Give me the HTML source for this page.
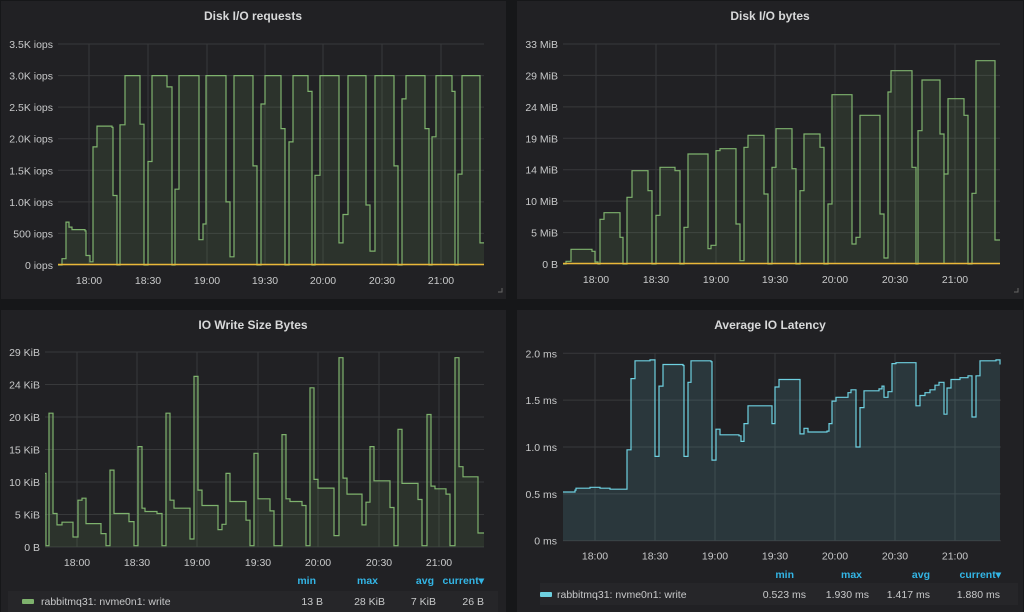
<!DOCTYPE html><html><head><meta charset="utf-8"><style>
body{margin:0;background:#161719;}
svg{display:block;font-family:"Liberation Sans",sans-serif;}
.t{fill:#d8d9da;font-size:12px;font-weight:bold;text-anchor:middle}
.a{fill:#c8c9ca;font-size:10.5px}
.r{text-anchor:end}.m{text-anchor:middle}
.h{fill:#33b5e5;font-size:10.5px;font-weight:bold;text-anchor:end}
</style></head><body>
<svg id="s" width="1024" height="612" viewBox="0 0 1024 612">
<rect width="1024" height="612" fill="#161719"/>
<rect x="1" y="1" width="505" height="298" fill="#212124"/>
<rect x="517" y="1" width="506" height="298" fill="#212124"/>
<rect x="1" y="310" width="505" height="302" fill="#212124"/>
<rect x="517" y="310" width="506" height="302" fill="#212124"/>
<text class="t" x="253" y="20">Disk I/O requests</text>
<text class="t" x="770" y="20">Disk I/O bytes</text>
<text class="t" x="253" y="329">IO Write Size Bytes</text>
<text class="t" x="770" y="329">Average IO Latency</text>
<g id="g"></g>
<rect x="8" y="591" width="490" height="21" fill="#262629"/>
<rect x="540" y="583" width="478" height="22" fill="#262629"/>
<text class="h" x="316" y="584">min</text><text class="h" x="378" y="584">max</text><text class="h" x="434" y="584">avg</text><text class="h" x="484" y="584">current▾</text>
<rect x="22" y="599" width="12" height="5" rx="1" fill="#7eb26d"/>
<text class="a" x="41" y="605">rabbitmq31: nvme0n1: write</text>
<text class="a r" x="323" y="605">13 B</text><text class="a r" x="385" y="605">28 KiB</text><text class="a r" x="436" y="605">7 KiB</text><text class="a r" x="484" y="605">26 B</text>
<text class="h" x="794" y="578">min</text><text class="h" x="862" y="578">max</text><text class="h" x="930" y="578">avg</text><text class="h" x="1001" y="578">current▾</text>
<rect x="540" y="592" width="12" height="5" rx="1" fill="#6ed0e0"/>
<text class="a" x="557" y="598">rabbitmq31: nvme0n1: write</text>
<text class="a r" x="806" y="598">0.523 ms</text><text class="a r" x="869" y="598">1.930 ms</text><text class="a r" x="930" y="598">1.417 ms</text><text class="a r" x="1000" y="598">1.880 ms</text>
<path d="M498 292h4v-4" stroke="#666" fill="none"/><path d="M1014 292h4v-4" stroke="#666" fill="none"/>
</svg>
<script>
var NS="http://www.w3.org/2000/svg",G=document.getElementById('g');
function el(t,a,txt){var e=document.createElementNS(NS,t);for(var k in a)e.setAttribute(k,a[k]);if(txt)e.textContent=txt;G.appendChild(e);return e;}
function panel(o){
 // grid
 o.yl.forEach(function(l,i){var y=o.y0-i*o.ys;el('line',{x1:o.x0,x2:o.x1,y1:y,y2:y,stroke:'#38393b','stroke-width':1});
  el('text',{class:'a r',x:o.lx,y:y+4},l);});
 var xl=['18:00','18:30','19:00','19:30','20:00','20:30','21:00'];
 o.xt.forEach(function(x,i){el('line',{x1:x,x2:x,y1:o.y0-(o.yl.length-1)*o.ys,y2:o.y0,stroke:'#38393b'});
  el('text',{class:'a m',x:x,y:o.y0+19},xl[i]);});
 var d=o.d,s='M'+d[0][0]+' '+(o.y0-d[0][1]*o.k);
 for(var i=1;i<d.length;i++){s+='H'+d[i][0]+'V'+(o.y0-d[i][1]*o.k).toFixed(1);}
 el('path',{d:s+'V'+o.y0+'H'+d[0][0]+'Z',fill:o.f});
 el('path',{d:s,fill:'none',stroke:o.c,'stroke-width':1.2});
 if(o.yel)el('line',{x1:o.x0,x2:o.x1,y1:o.y0-0.5,y2:o.y0-0.5,stroke:'#eab839','stroke-width':1.5});
}
panel({x0:58,x1:484,y0:265,ys:31.57,lx:53,yl:['0 iops','500 iops','1.0K iops','1.5K iops','2.0K iops','2.5K iops','3.0K iops','3.5K iops'],
 xt:[89,148,207,265,323,382,441],k:0.06314,c:'#7eb26d',f:'rgba(126,178,109,0.12)',yel:1,
 d:[[58,0],[62,100],[66,680],[69,600],[72,560],[85,540],[86,150],[90,50],[93,1870],[97,2200],[112,2180],[113,1100],[117,0],[120,2220],[125,3000],[140,2230],[144,0],[148,1640],[152,3000],[167,2820],[172,0],[175,1200],[179,3000],[199,400],[203,650],[206,3000],[226,1000],[230,130],[234,3000],[253,1570],[257,0],[261,2550],[265,3000],[281,2160],[285,0],[289,1950],[293,3000],[308,2750],[312,0],[315,1420],[320,3000],[339,350],[343,800],[348,3000],[366,950],[370,220],[375,3000],[394,1570],[398,0],[402,2630],[406,3000],[425,2160],[429,0],[432,2030],[436,3000],[452,2750],[455,0],[458,1440],[462,3000],[480,350],[484,350]]});
panel({x0:563,x1:1000,y0:264,ys:31.43,lx:558,yl:['0 B','5 MiB','10 MiB','14 MiB','19 MiB','24 MiB','29 MiB','33 MiB'],
 xt:[596,656,716,775,835,895,955],k:6.667,c:'#7eb26d',f:'rgba(126,178,109,0.12)',yel:1,
 d:[[563,0],[566,0.4],[571,2.2],[592,1.9],[595,0.3],[598,0],[600,6.7],[604,7.7],[620,4],[623,0],[627,10],[632,14],[648,11],[652,0],[656,7.3],[660,14.5],[675,14],[680,0],[684,5.5],[688,16.5],[708,2.3],[711,2.8],[716,17],[720,17.3],[736,6],[740,0.5],[744,17.5],[748,19.3],[764,10.5],[768,0],[772,14.5],[776,20.3],[792,14.3],[796,0],[800,11],[804,19.5],[820,17.5],[824,0],[828,9],[832,25.4],[852,3],[856,4],[860,22.3],[880,7.5],[884,0.9],[888,25.8],[891,29],[912,14.5],[916,0],[918,20],[922,27.6],[940,19.5],[944,0],[944,13.5],[948,24.8],[964,22.3],[968,0],[972,10.6],[976,30.5],[995,3.6],[1000,3.6]]});
panel({x0:45,x1:484,y0:547,ys:32.5,lx:40,yl:['0 B','5 KiB','10 KiB','15 KiB','20 KiB','24 KiB','29 KiB'],
 xt:[77,137,197,258,318,379,439],k:6.69,c:'#7eb26d',f:'rgba(126,178,109,0.12)',
 d:[[45,11],[46,0.2],[49,20],[53,5],[57,3.3],[62,3.7],[73,1.5],[78,7],[82,7.3],[86,3.5],[101,2],[106,0.2],[110,11.5],[114,5],[129,3.8],[134,0.2],[138,15],[142,5.8],[145,5.3],[157,5],[162,0.2],[166,20],[170,7],[174,5.8],[190,1.2],[194,25.5],[198,8.5],[202,6.2],[218,2.6],[222,3.4],[226,11],[230,6.8],[246,4],[250,0.2],[254,14],[258,7.2],[270,5.4],[274,0.2],[282,16.8],[286,7.2],[290,6.8],[302,6.2],[306,0.2],[310,23.8],[314,10.1],[318,8.8],[334,1.7],[339,28.3],[343,10.3],[347,7.9],[362,3.3],[366,6.7],[370,15],[374,9.9],[390,5.9],[394,0.2],[398,17.6],[402,9.5],[418,7.1],[422,0.2],[427,19.8],[431,9.1],[435,8.7],[446,7.9],[450,0.2],[455,28.3],[459,12],[463,10.5],[478,2.1],[484,2.1]]});
panel({x0:563,x1:1001,y0:540.7,ys:46.85,lx:557,yl:['0 ms','0.5 ms','1.0 ms','1.5 ms','2.0 ms'],
 xt:[595,655,715,775,835,895,955],k:93.7,c:'#6ed0e0',f:'rgba(110,208,224,0.13)',
 d:[[563,0.52],[575,0.54],[576,0.56],[590,0.57],[600,0.56],[610,0.55],[627,0.56],[627,0.97],[631,1.73],[635,1.92],[650,1.93],[655,0.9],[659,1.65],[663,1.88],[683,1.87],[684,0.9],[688,1.69],[691,1.92],[711,1.91],[712,0.86],[716,1.19],[720,1.13],[739,1.12],[741,1.06],[744,1.25],[748,1.44],[771,1.44],[772,1.25],[775,1.64],[779,1.72],[800,1.71],[800,1.14],[804,1.2],[808,1.16],[827,1.17],[829,1.25],[832,1.49],[836,1.53],[848,1.58],[851,1.61],[856,1.0],[860,1.42],[864,1.6],[879,1.62],[882,1.65],[884,1.53],[888,1.59],[892,1.89],[896,1.9],[916,1.89],[916,1.44],[920,1.55],[925,1.58],[930,1.61],[935,1.66],[939,1.69],[944,1.35],[947,1.63],[951,1.72],[960,1.74],[968,1.76],[972,1.32],[976,1.76],[980,1.92],[996,1.93],[1000,1.88]]});
</script>
</body></html>
